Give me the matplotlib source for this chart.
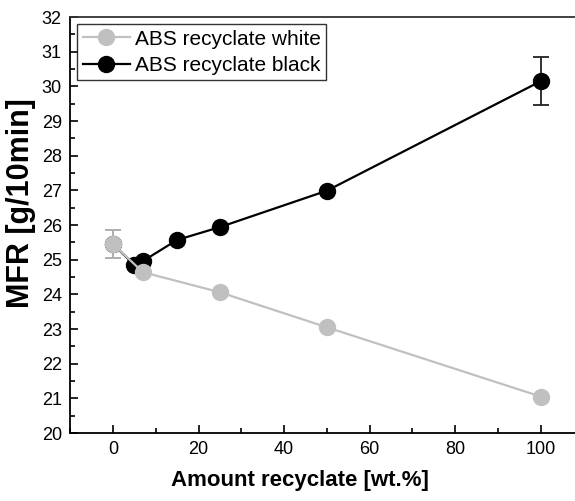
"""
MFR vs. amount of ABS recyclate (white / black).
"""
import matplotlib

matplotlib.use("Agg")
import matplotlib.pyplot as plt
from matplotlib.ticker import MultipleLocator

plt.rcParams["font.family"] = ["Liberation Sans", "DejaVu Sans"]

# data
white_x = [0, 7, 25, 50, 100]
white_mfr = [25.45, 24.64, 24.06, 23.05, 21.05]
white_err = [0.4, 0, 0, 0, 0]

black_x = [0, 5, 7, 15, 25, 50, 100]
black_mfr = [25.45, 24.85, 24.96, 25.57, 25.94, 26.99, 30.15]
black_err = [0, 0, 0, 0, 0, 0, 0.7]

GREY = "#c0c0c0"

fig = plt.figure(figsize=(5.75, 5.01), dpi=100)
ax = fig.add_axes([0.122, 0.1357, 0.893, 0.8303])

# error bars first, lines + markers on top
ax.errorbar(black_x, black_mfr, yerr=black_err, fmt="none", capsize=6,
            capthick=1.3, elinewidth=1.3, ecolor="#222222", zorder=1.5)
ax.errorbar(white_x, white_mfr, yerr=white_err, fmt="none", capsize=6,
            capthick=1.3, elinewidth=1.3, ecolor="#a8a8a8", zorder=2.5)
ax.plot(black_x, black_mfr, color="black", lw=1.6, marker="o", ms=11.5,
        label="ABS recyclate black", zorder=2)
ax.plot(white_x, white_mfr, color=GREY, lw=1.6, marker="o", ms=11.5,
        label="ABS recyclate white", zorder=3)

ax.set_xlim(-10, 110)
ax.set_ylim(20, 32)
ax.xaxis.set_major_locator(MultipleLocator(20))
ax.xaxis.set_minor_locator(MultipleLocator(10))
ax.yaxis.set_major_locator(MultipleLocator(1))
ax.yaxis.set_minor_locator(MultipleLocator(0.5))
ax.tick_params(which="both", direction="in", labelsize=13, width=1.2)
ax.tick_params(which="major", length=6, pad=6)
ax.tick_params(which="minor", length=3.5)
for s in ax.spines.values():
    s.set_linewidth(1.3)
ax.spines["top"].set_color("#333333")
ax.spines["right"].set_visible(False)

ax.set_xlabel("Amount recyclate [wt.%]", fontsize=16, fontweight="bold")
ax.set_ylabel("MFR [g/10min]", fontsize=22, fontweight="bold")
ax.xaxis.set_label_coords(0.447, -0.089)
ax.yaxis.set_label_coords(-0.067, 0.553)

handles, labels = ax.get_legend_handles_labels()
leg = ax.legend(handles[::-1], labels[::-1], loc="upper left", fontsize=15,
                frameon=True, fancybox=False, edgecolor="black",
                borderaxespad=0.35, handlelength=2.25, handletextpad=0.25,
                borderpad=0.25, labelspacing=0.35)
leg.get_frame().set_linewidth(1.0)

fig.savefig("out.png", dpi=100)
